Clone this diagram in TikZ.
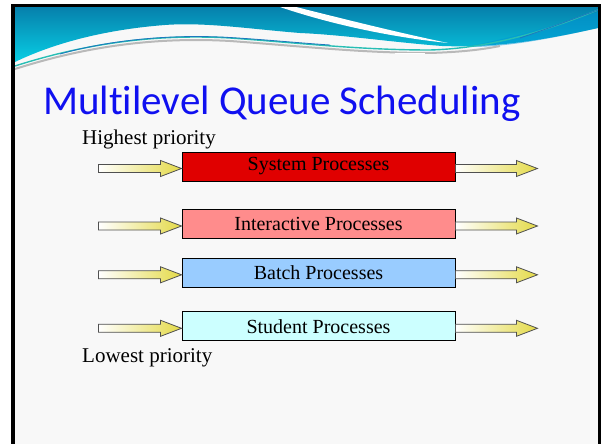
\documentclass[tikz,border=0pt]{standalone}
\usepackage{fontspec}
\setmainfont{Liberation Serif}
\newfontfamily\titlefont[Ligatures={NoCommon,NoContextual}]{Carlito}
\usetikzlibrary{calc}
\definecolor{slidebg}{RGB}{248,248,248}
\definecolor{hdtop}{RGB}{6,128,172}
\definecolor{hdbot}{RGB}{8,206,228}
\definecolor{hdright}{RGB}{0,150,214}
\definecolor{hdline}{RGB}{40,190,180}
\definecolor{hdlineb}{RGB}{30,120,190}
\definecolor{titleblue}{RGB}{16,16,240}
\definecolor{sysred}{RGB}{224,0,0}
\definecolor{interpink}{RGB}{255,140,140}
\definecolor{batchblue}{RGB}{153,204,255}
\definecolor{studcyan}{RGB}{204,255,255}
\definecolor{arrowyel}{RGB}{228,218,72}
\definecolor{arrowline}{RGB}{80,80,80}
\tikzset{
  qbox/.style={draw=black, line width=0.9pt, minimum width=273pt, minimum height=29pt,
    inner sep=0pt, font=\fontsize{20}{22}\selectfont},
  qarrow/.style={left color=white, right color=arrowyel, draw=arrowline, line width=0.8pt, line join=miter},
  plabel/.style={anchor=base west, inner sep=0pt, font=\fontsize{21}{24}\selectfont}
}
\newcommand\qarrowshape[2]{% #1 = tail coordinate, #2 = tip coordinate
  \shade[qarrow] ($(#1)+(0,-4)$) -- ($(#2)+(-21,-4)$) -- ($(#2)+(-21,-8)$) -- (#2)
    -- ($(#2)+(-21,8)$) -- ($(#2)+(-21,4)$) -- ($(#1)+(0,4)$) -- cycle;}
\begin{document}
\begin{tikzpicture}[x=1pt,y=-1pt]
\useasboundingbox (0,0) rectangle (602,444);
% slide
\fill[slidebg] (13,6) rectangle (600,444);
% header band
\shade[top color=hdtop, bottom color=hdbot]
  (15,7) -- (598,7) -- (598,28)
  .. controls (545,40) and (495,48) .. (442,46)
  .. controls (390,42) and (345,35) .. (300,33)
  .. controls (250,29) and (205,22) .. (165,25)
  .. controls (100,30) and (50,45) .. (15,62) -- cycle;
% lighter band under the rising line on the right
\fill[hdright, opacity=0.5] (470,46) .. controls (520,36) and (565,22) .. (598,12)
  -- (598,28) .. controls (545,40) and (505,47) .. (470,47) -- cycle;
% white streak
\fill[white] (280,7) .. controls (330,24) and (390,37) .. (448,43)
  .. controls (395,32) and (340,18) .. (296,7) -- cycle;
% thin lines
\draw[gray!55, line width=2pt] (15,69) .. controls (90,45) and (160,37) .. (230,41)
  .. controls (300,46) and (360,53) .. (430,53) .. controls (460,52) and (480,50) .. (500,46);
\draw[white, line width=0.8pt] (395,53) -- (425,53);
\draw[hdline, line width=1.4pt] (15,66) .. controls (90,42) and (160,34) .. (230,38)
  .. controls (300,43) and (360,50) .. (430,50) .. controls (500,48) and (560,25) .. (598,10);
\draw[hdlineb, line width=0.8pt] (60,54) .. controls (110,40) and (170,34) .. (230,37.5)
  .. controls (270,40) and (300,43) .. (330,45);
\draw[hdlineb, line width=0.8pt] (520,38) .. controls (550,28) and (575,18) .. (598,10);
% frame
\draw[black, line width=3.5pt] (12.75,444) -- (12.75,5.75) -- (599.25,5.75) -- (599.25,444);
% title
\node[anchor=base west, inner sep=0pt, text=titleblue, font=\titlefont\fontsize{41}{44}\selectfont]
  (title) at (43,114.5) {Multilevel Queue Scheduling};
% labels
\node[plabel] (high) at (82,144.5) {Highest priority};
\node[plabel] (low) at (82,362) {Lowest priority};
% boxes
\node[qbox, fill=sysred] (sys) at (318.5,166.5) {System Processes};
\node[qbox, fill=interpink] (inter) at (318.5,224) {Interactive Processes};
\node[qbox, fill=batchblue] (batch) at (318.5,272.8) {Batch Processes};
\node[qbox, fill=studcyan] (stud) at (318.5,326.3) {Student Processes};
% arrows
\foreach \b in {sys,inter,batch,stud}{
  \coordinate (\b-in-tip) at ($(\b.west)+(0,2)$);
  \coordinate (\b-in-tail) at ($(\b.west)+(-83,2)$);
  \coordinate (\b-out-tail) at ($(\b.east)+(0,2)$);
  \coordinate (\b-out-tip) at ($(\b.east)+(82,2)$);
  \qarrowshape{\b-in-tail}{\b-in-tip}
  \qarrowshape{\b-out-tail}{\b-out-tip}
}
\end{tikzpicture}
\end{document}
